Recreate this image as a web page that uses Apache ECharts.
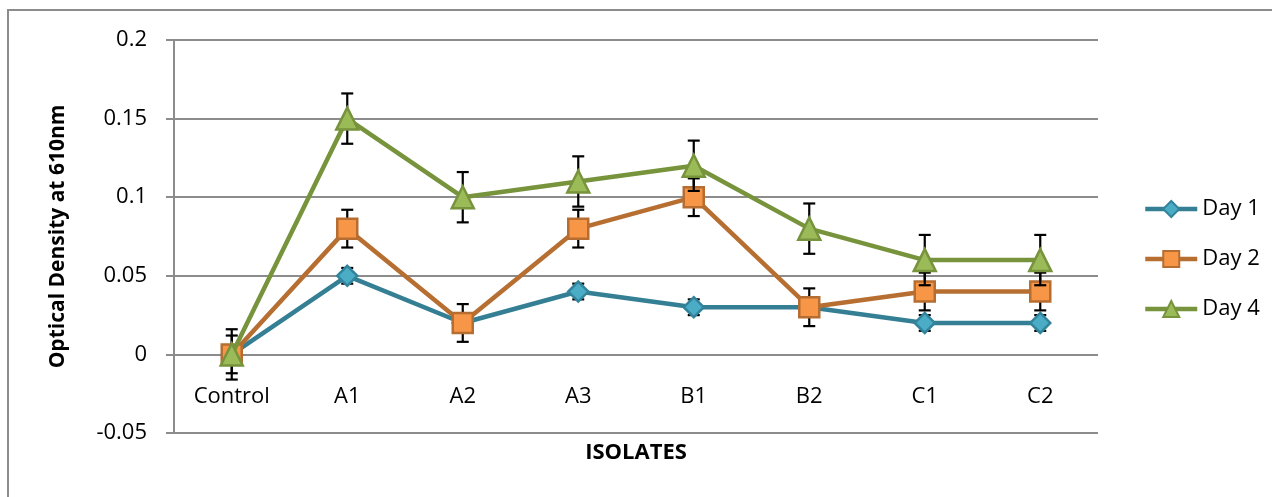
<!DOCTYPE html>
<html>
<head>
<meta charset="utf-8">
<script src="https://cdn.jsdelivr.net/npm/echarts@6/dist/echarts.min.js"></script>
<style>
html,body{margin:0;padding:0;background:#fff;}
#chart{width:1272px;height:497px;}
</style>
</head>
<body>
<div id="chart"></div>
<script>
const categories = ['Control', 'A1', 'A2', 'A3', 'B1', 'B2', 'C1', 'C2'];
const day1 = [0, 0.05, 0.02, 0.04, 0.03, 0.03, 0.02, 0.02];
const day2 = [0, 0.08, 0.02, 0.08, 0.10, 0.03, 0.04, 0.04];
const day4 = [0, 0.15, 0.10, 0.11, 0.12, 0.08, 0.06, 0.06];
const err1 = [0.005, 0.005, 0.005, 0.005, 0.005, 0.005, 0.005, 0.005];
const err2 = [0.012, 0.012, 0.012, 0.012, 0.012, 0.012, 0.012, 0.012];
const err4 = [0.016, 0.016, 0.016, 0.016, 0.016, 0.016, 0.016, 0.016];
const seriesNames = ['Day 1', 'Day 2', 'Day 4'];

const FONT = 'Open Sans';
const chart = echarts.init(document.getElementById('chart'), null, {renderer: 'canvas'});

function errRender(params, api) {
  const x = api.value(0), y = api.value(1), e = api.value(2);
  const top = api.coord([x, y + e]);
  const bot = api.coord([x, y - e]);
  const w = 6;
  const st = {stroke: '#000', lineWidth: 2.2};
  return {
    type: 'group',
    children: [
      {type: 'line', shape: {x1: top[0], y1: top[1], x2: bot[0], y2: bot[1]}, style: st},
      {type: 'line', shape: {x1: top[0] - w, y1: top[1], x2: top[0] + w, y2: top[1]}, style: st},
      {type: 'line', shape: {x1: bot[0] - w, y1: bot[1], x2: bot[0] + w, y2: bot[1]}, style: st}
    ]
  };
}
function errData(vals, errs) {
  return vals.map((v, i) => [i, v, errs[i]]);
}

const styles = [
  {line: '#357f95', fill: '#4bacc6', border: '#31849b', symbol: 'diamond', size: 20},
  {line: '#b76e31', fill: '#f79646', border: '#b66d31', symbol: 'rect', size: 20},
  {line: '#77933c', fill: '#9bbb59', border: '#77933c', symbol: 'triangle', size: 22}
];
const vals = [day1, day2, day4];
const errs = [err1, err2, err4];

const series = [];
vals.forEach((v, k) => {
  series.push({
    type: 'custom',
    name: seriesNames[k] + ' err',
    renderItem: errRender,
    data: errData(v, errs[k]),
    encode: {x: 0, y: 1},
    z: 2 + k * 2,
    silent: true
  });
  series.push({
    type: 'line',
    name: seriesNames[k],
    data: v,
    symbol: styles[k].symbol,
    symbolSize: styles[k].size,
    lineStyle: {color: styles[k].line, width: 4.5},
    itemStyle: {color: styles[k].fill, borderColor: styles[k].border, borderWidth: 2.5},
    z: 3 + k * 2,
    animation: false
  });
});

chart.setOption({
  animation: false,
  backgroundColor: '#fff',
  textStyle: {fontFamily: FONT},
  graphic: [{
    type: 'rect',
    shape: {x: 8, y: 10, width: 1400, height: 700},
    style: {fill: 'none', stroke: '#8c8c8c', lineWidth: 2},
    z: -10
  }],
  grid: {left: 174, right: 174, top: 40, bottom: 64, containLabel: false, outerBoundsMode: 'none'},
  legend: {
    orient: 'vertical',
    left: 1138,
    top: 193,
    itemWidth: 52,
    itemHeight: 20,
    itemGap: 28,
    data: seriesNames,
    lineStyle: {width: 4.5},
    textStyle: {fontFamily: FONT, fontSize: 22, color: '#000'}
  },
  xAxis: {
    type: 'category',
    data: categories,
    boundaryGap: true,
    axisLine: {show: false, onZero: false},
    axisTick: {show: false},
    axisLabel: {fontFamily: FONT, fontSize: 22, color: '#000', margin: -47},
    name: 'ISOLATES',
    nameLocation: 'middle',
    nameGap: 9,
    nameTextStyle: {fontFamily: FONT, fontSize: 22, fontWeight: 'bold', color: '#000', verticalAlign: 'top'}
  },
  yAxis: {
    type: 'value',
    min: -0.05,
    max: 0.2,
    interval: 0.05,
    axisLine: {show: true, lineStyle: {color: '#8c8c8c', width: 2}},
    axisTick: {show: true, length: 8, lineStyle: {color: '#8c8c8c', width: 2}},
    splitLine: {show: true, lineStyle: {color: '#8c8c8c', width: 2}},
    axisLabel: {fontFamily: FONT, fontSize: 22, color: '#000', margin: 27},
    name: 'Optical Density at 610nm',
    nameLocation: 'middle',
    nameRotate: 90,
    nameGap: 105,
    nameTextStyle: {fontFamily: FONT, fontSize: 21, fontWeight: 'bold', color: '#000'}
  },
  series: series
});
</script>
</body>
</html>
